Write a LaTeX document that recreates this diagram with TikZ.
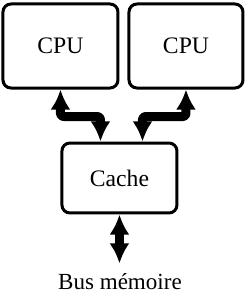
\documentclass[tikz,border=0pt]{standalone}
\usepackage{fontspec}
\setmainfont{Liberation Serif}
\usetikzlibrary{positioning,arrows.meta,calc}

\tikzset{
  unit/.style={draw,line width=1.5pt,rounded corners=4pt,fill=white,
    font=\fontsize{11.8}{13}\selectfont},
  bus/.style={<->,line width=4.5pt,line join=round,rounded corners=1.5pt},
  lbl/.style={inner sep=5pt,font=\fontsize{11.5}{13}\selectfont}
}

\begin{document}
\begin{tikzpicture}[>={Latex[length=10pt,width=10pt]}]
  \useasboundingbox (0,0) rectangle (4.386,5.281);
  % processeurs
  \node[unit,minimum width=2.018cm,minimum height=1.474cm] (cpuL) at (1.061,4.474) {CPU};
  \node[unit,minimum width=2.0cm,minimum height=1.474cm] (cpuR) at (3.263,4.474) {CPU};
  % cache partage
  \node[unit,minimum width=2.018cm,minimum height=1.228cm] (cache) at (2.096,2.158) {Cache};
  % bus vers la memoire
  \node[lbl] (bus) at (2.105,0.333) {Bus mémoire};
  % liaisons
  \draw[bus] (cpuL.south) -- ++(0,-0.474) -| ([xshift=-0.333cm]cache.north);
  \draw[bus] (cpuR.south) -- ++(0,-0.474) -| ([xshift=0.404cm]cache.north);
  \draw[bus] (cache.south) -- (cache.south |- bus.north);
\end{tikzpicture}
\end{document}
